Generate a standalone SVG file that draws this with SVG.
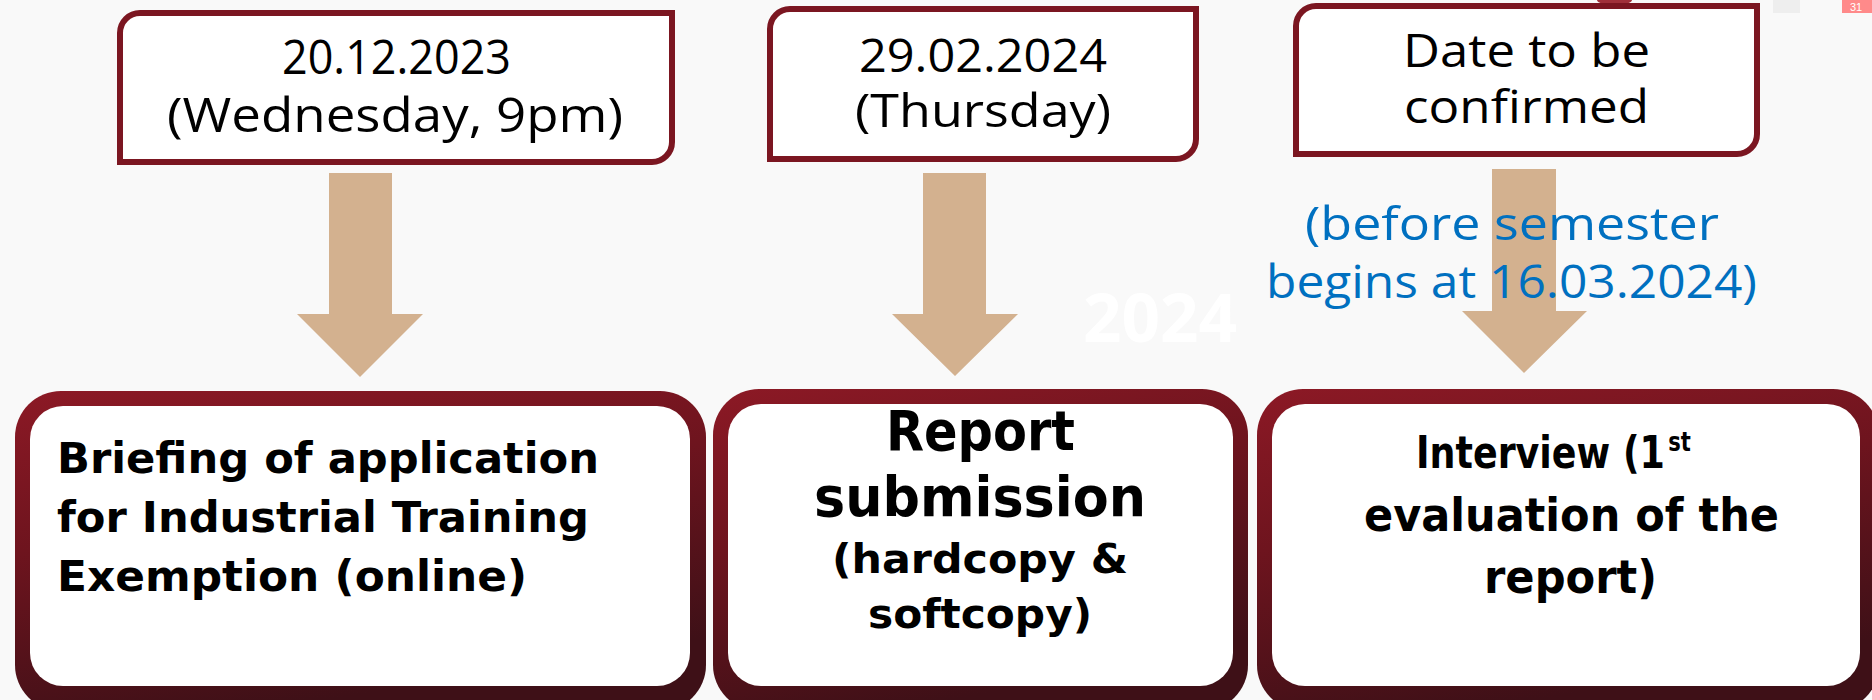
<svg xmlns="http://www.w3.org/2000/svg" width="1872" height="700" viewBox="0 0 1872 700">
<defs>
<linearGradient id="frame" x1="0" y1="0" x2="0.35" y2="1">
<stop offset="0" stop-color="#8C1925"/>
<stop offset="0.45" stop-color="#6E141E"/>
<stop offset="1" stop-color="#3E1017"/>
</linearGradient>
<style>
.tbox{fill:#FFFFFF;stroke:#7B1621;stroke-width:6}
.arrow{fill:#D3B18F}
.reg{font-family:"Open Sans","Liberation Sans",sans-serif;font-weight:400;fill:#000000}
.bold{font-family:"DejaVu Sans","Liberation Sans",sans-serif;font-weight:700;fill:#000000}
.blue{font-family:"Open Sans","Liberation Sans",sans-serif;font-weight:400;fill:#0070C0}
.inner{fill:#FFFFFF}
</style>
</defs>
<rect x="0" y="0" width="1872" height="700" fill="#F9F9F9"/>
<rect x="1773" y="0" width="27" height="13" fill="#EEEEEE"/>
<rect x="1842" y="0" width="30" height="13" fill="#FF8A8A"/>
<text x="1850" y="11" font-family="Liberation Sans, sans-serif" font-size="11" fill="#FFFFFF">31</text>
<path d="M1597 0 A17 5 0 0 0 1632 0 Z" fill="#A0303A"/>
<text x="1083" y="342" font-family="Open Sans, sans-serif" font-weight="700" font-size="66" fill="#FFFFFF" textLength="154" lengthAdjust="spacingAndGlyphs">2024</text>

<g id="connectors">
<polygon class="arrow" points="329,173 392,173 392,314 423,314 360,377 297,314 329,314"/>
<polygon class="arrow" points="923,173 986,173 986,314 1018,314 955,376 892,314 923,314"/>
<polygon class="arrow" points="1492,169 1556,169 1556,311 1587,311 1524,373 1462,311 1492,311"/>
</g>

<g id="date1">
<path class="tbox" d="M140 13 H672 V142 A20 20 0 0 1 652 162 H120 V33 A20 20 0 0 1 140 13 Z"/>
<text class="reg" x="282" y="74" font-size="47" textLength="229" lengthAdjust="spacingAndGlyphs">20.12.2023</text>
<text class="reg" x="167" y="132" font-size="47" textLength="456" lengthAdjust="spacingAndGlyphs">(Wednesday, 9pm)</text>
</g>

<g id="date2">
<path class="tbox" d="M790 9 H1196 V139 A20 20 0 0 1 1176 159 H770 V29 A20 20 0 0 1 790 9 Z"/>
<text class="reg" x="859" y="72" font-size="45" textLength="248" lengthAdjust="spacingAndGlyphs">29.02.2024</text>
<text class="reg" x="855" y="127" font-size="45" textLength="256" lengthAdjust="spacingAndGlyphs">(Thursday)</text>
</g>

<g id="date3">
<path class="tbox" d="M1316 6 H1757 V134 A20 20 0 0 1 1737 154 H1296 V26 A20 20 0 0 1 1316 6 Z"/>
<text class="reg" x="1403" y="67" font-size="45" textLength="247" lengthAdjust="spacingAndGlyphs">Date to be</text>
<text class="reg" x="1404" y="123" font-size="45" textLength="245" lengthAdjust="spacingAndGlyphs">confirmed</text>
</g>

<g id="note">
<text class="blue" x="1305" y="240" font-size="46" textLength="414" lengthAdjust="spacingAndGlyphs">(before semester</text>
<text class="blue" x="1266" y="298" font-size="46" textLength="491" lengthAdjust="spacingAndGlyphs">begins at 16.03.2024)</text>
</g>

<g id="step1">
<rect x="15" y="391" width="691" height="320" rx="46" fill="url(#frame)"/>
<rect class="inner" x="30" y="406" width="660" height="280" rx="33"/>
<text class="bold" x="57" y="473" font-size="43" textLength="542" lengthAdjust="spacingAndGlyphs">Briefing of application</text>
<text class="bold" x="57" y="532" font-size="43" textLength="532" lengthAdjust="spacingAndGlyphs">for Industrial Training</text>
<text class="bold" x="57" y="591" font-size="43" textLength="470" lengthAdjust="spacingAndGlyphs">Exemption (online)</text>
</g>

<g id="step2">
<rect x="713" y="389" width="535" height="322" rx="46" fill="url(#frame)"/>
<rect class="inner" x="728" y="404" width="505" height="282" rx="33"/>
<text class="bold" x="886" y="450" font-size="55" textLength="189" lengthAdjust="spacingAndGlyphs">Report</text>
<text class="bold" x="814" y="516" font-size="55" textLength="332" lengthAdjust="spacingAndGlyphs">submission</text>
<text class="bold" x="832" y="573" font-size="41" textLength="296" lengthAdjust="spacingAndGlyphs">(hardcopy &amp;</text>
<text class="bold" x="868" y="628" font-size="41" textLength="224" lengthAdjust="spacingAndGlyphs">softcopy)</text>
</g>

<g id="step3">
<rect x="1257" y="389" width="622" height="322" rx="46" fill="url(#frame)"/>
<rect class="inner" x="1272" y="404" width="588" height="282" rx="33"/>
<text class="bold" transform="translate(1416 468) scale(0.81 1)" x="0" y="0" font-size="45">Interview (1<tspan font-size="26" dx="4" dy="-17">st</tspan></text>
<text class="bold" x="1364" y="531" font-size="46" textLength="415" lengthAdjust="spacingAndGlyphs">evaluation of the</text>
<text class="bold" x="1484" y="593" font-size="46" textLength="173" lengthAdjust="spacingAndGlyphs">report)</text>
</g>
</svg>
